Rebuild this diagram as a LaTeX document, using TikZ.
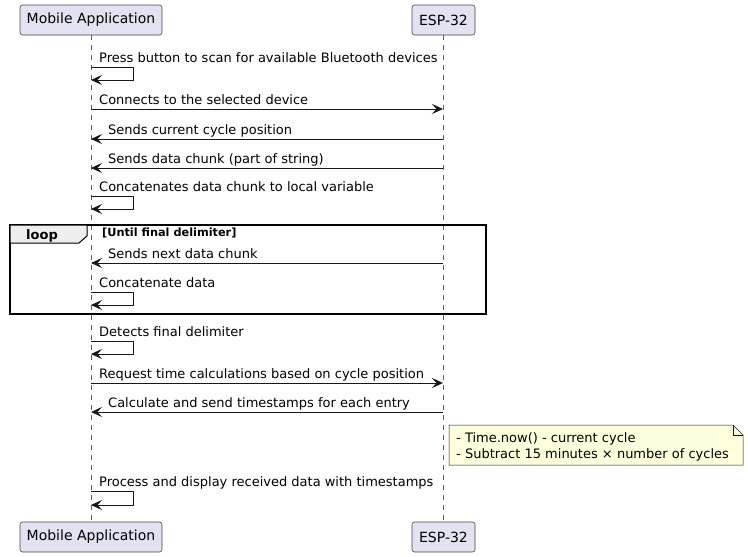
\documentclass[tikz,border=0pt]{standalone}
\usepackage{fontspec}
\setmainfont{DejaVu Sans}
\usetikzlibrary{arrows.meta}
\definecolor{partfill}{HTML}{E2E2F0}
\definecolor{linecol}{HTML}{181818}
\definecolor{notefill}{HTML}{FEFFDD}
\definecolor{tabfill}{HTML}{EEEEEE}
\begin{document}
\begin{tikzpicture}[x=1pt,y=-1pt,
  part/.style={draw=linecol!80,fill=partfill,line width=0.6pt,rounded corners=2.5pt,
    minimum height=30pt,inner sep=0pt,font=\fontsize{14}{16}\selectfont,text=black},
  life/.style={draw=linecol!70,line width=0.5pt,dash pattern=on 5pt off 5pt},
  msg/.style={draw=linecol,line width=0.9pt,-{Stealth[length=11pt,width=10pt,inset=4.5pt]}},
  lbl/.style={anchor=base west,inner sep=0pt,font=\fontsize{13}{15}\selectfont},
  frame/.style={draw=black,line width=1.5pt},
]
\useasboundingbox (0,0) rectangle (748,557);
% participants
\node[part,minimum width=142pt] (pa1) at (91,20) {Mobile Application};
\node[part,minimum width=63pt] (pb1) at (443.5,20) {ESP-32};
\node[part,minimum width=142pt] (pa2) at (91,537) {Mobile Application};
\node[part,minimum width=63pt] (pb2) at (443.5,537) {ESP-32};
% lifelines
\draw[life] (pa1.south) -- (pa2.north);
\draw[life] (pb1.south) -- (pb2.north);
% loop frame
\draw[frame] (10,225) rectangle (486,314);
\filldraw[fill=tabfill,draw=black,line width=1pt] (10,225) -- (87,225) -- (87,236) -- (79,243) -- (10,243) -- cycle;
\node[anchor=base west,inner sep=0pt,font=\fontsize{13}{15}\selectfont\bfseries] (looplbl) at (26,239) {loop};
\node[anchor=base west,inner sep=0pt,font=\fontsize{11.3}{13}\selectfont\bfseries] (loopcond) at (102,236.5) {[Until final delimiter]};
% messages
% 1 self
\coordinate (s1a) at (91,67); \coordinate (s1b) at (133,67); \coordinate (s1c) at (133,80); \coordinate (s1d) at (91,80);
\draw[msg] (s1a) -- (s1b) -- (s1c) -- (s1d);
\node[lbl] (t1) at (99,62) {Press button to scan for available Bluetooth devices};
% 2
\coordinate (m2a) at (91,109); \coordinate (m2b) at (443,109);
\draw[msg] (m2a) -- (m2b);
\node[lbl] (t2) at (99,104) {Connects to the selected device};
% 3
\coordinate (m3a) at (443,139); \coordinate (m3b) at (91,139);
\draw[msg] (m3a) -- (m3b);
\node[lbl] (t3) at (108,134) {Sends current cycle position};
% 4
\coordinate (m4a) at (443,168); \coordinate (m4b) at (91,168);
\draw[msg] (m4a) -- (m4b);
\node[lbl] (t4) at (108,163) {Sends data chunk (part of string)};
% 5 self
\coordinate (s5a) at (91,196); \coordinate (s5b) at (133,196); \coordinate (s5c) at (133,209); \coordinate (s5d) at (91,209);
\draw[msg] (s5a) -- (s5b) -- (s5c) -- (s5d);
\node[lbl] (t5) at (99,191) {Concatenates data chunk to local variable};
% 7
\coordinate (m7a) at (443,263); \coordinate (m7b) at (91,263);
\draw[msg] (m7a) -- (m7b);
\node[lbl] (t7) at (108,258) {Sends next data chunk};
% 8 self
\coordinate (s8a) at (91,292); \coordinate (s8b) at (133,292); \coordinate (s8c) at (133,305); \coordinate (s8d) at (91,305);
\draw[msg] (s8a) -- (s8b) -- (s8c) -- (s8d);
\node[lbl] (t8) at (99,287) {Concatenate data};
% 9 self
\coordinate (s9a) at (91,341); \coordinate (s9b) at (133,341); \coordinate (s9c) at (133,354); \coordinate (s9d) at (91,354);
\draw[msg] (s9a) -- (s9b) -- (s9c) -- (s9d);
\node[lbl] (t9) at (99,336) {Detects final delimiter};
% 10
\coordinate (m10a) at (91,383); \coordinate (m10b) at (443,383);
\draw[msg] (m10a) -- (m10b);
\node[lbl] (t10) at (99,378) {Request time calculations based on cycle position};
% 11
\coordinate (m11a) at (443,412); \coordinate (m11b) at (91,412);
\draw[msg] (m11a) -- (m11b);
\node[lbl] (t11) at (108,407) {Calculate and send timestamps for each entry};
% note
\filldraw[fill=notefill,draw=linecol,line width=0.5pt] (449,425) -- (733,425) -- (743,435) -- (743,465) -- (449,465) -- cycle;
\draw[linecol,line width=0.5pt] (733,425) -- (733,435) -- (743,435);
\node[lbl] (n1) at (456,442) {- Time.now() - current cycle};
\node[lbl] (n2) at (456,458) {- Subtract 15 minutes × number of cycles};
% 13 self
\coordinate (s13a) at (91,491); \coordinate (s13b) at (133,491); \coordinate (s13c) at (133,505); \coordinate (s13d) at (91,505);
\draw[msg] (s13a) -- (s13b) -- (s13c) -- (s13d);
\node[lbl] (t13) at (99,486) {Process and display received data with timestamps};
\end{tikzpicture}
\end{document}
